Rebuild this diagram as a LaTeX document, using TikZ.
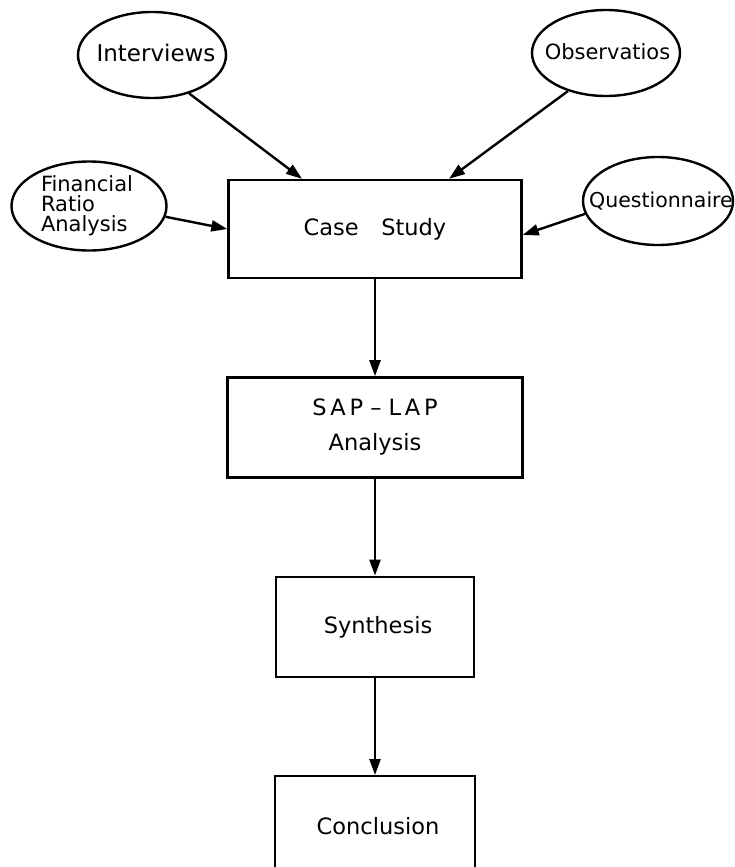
\documentclass[tikz,border=0pt]{standalone}
\usepackage{fontspec}
\setmainfont{DejaVu Sans}
\usetikzlibrary{arrows.meta,positioning,shapes.geometric}

% text that does not widen the ellipse round it
\newcommand{\inell}[1]{\makebox[0pt]{\raisebox{-.3em}[0pt][0pt]{#1}}}

\begin{document}
\begin{tikzpicture}[x=1pt,y=-1pt,>={Triangle[length=16pt,width=11pt]},node distance=97pt,
  line width=2.4pt,
  box/.style={draw,minimum height=100pt,inner sep=0pt,align=center,
    font=\fontsize{22.5}{35}\selectfont},
  src/.style={draw,ellipse,inner sep=0pt,minimum width=148pt,minimum height=86pt,
    font=\fontsize{21}{23}\selectfont}]
\useasboundingbox (0,0) rectangle (734,867);
\node[box,minimum width=293pt,minimum height=98pt] (cs) at (375,229) {Case\quad Study};
\node[box,minimum width=295pt,below=of cs] (sap) {S\,A\,P -- L\,A\,P\\ Analysis};
\node[box,minimum width=198pt,below=of sap] (syn) {\kern6pt Synthesis};
\node[box,minimum width=200pt,below=of syn] (con) {\kern6pt Conclusion};
\node[src,font=\fontsize{23}{23}\selectfont] (int) at (152,55) {\inell{\kern8pt Interviews}};
\node[src] (obs) at (606,53) {\inell{\kern3pt Observatios}};
\node[src,minimum width=155pt,minimum height=89pt] (fin) at (89,206)
  {\inell{\kern-4pt\begin{tabular}{@{}l@{}}Financial\\[-3pt]Ratio\\[-3pt]Analysis\end{tabular}}};
\node[src,minimum width=150pt,minimum height=88pt,font=\fontsize{20.5}{23}\selectfont] (que) at (658,201)
  {\inell{\kern6pt Questionnaire}};
\draw[->] (int.-46) -- ([xshift=-73pt]cs.north);
\draw[->] (obs.-135) -- ([xshift=74pt]cs.north);
\draw[->] (fin.-8) -- (cs.west);
\draw[->] (que.190) -- ([yshift=-6pt]cs.east);
\draw[->] (cs) -- (sap); \draw[->] (sap) -- (syn); \draw[->] (syn) -- (con);
\end{tikzpicture}
\end{document}
